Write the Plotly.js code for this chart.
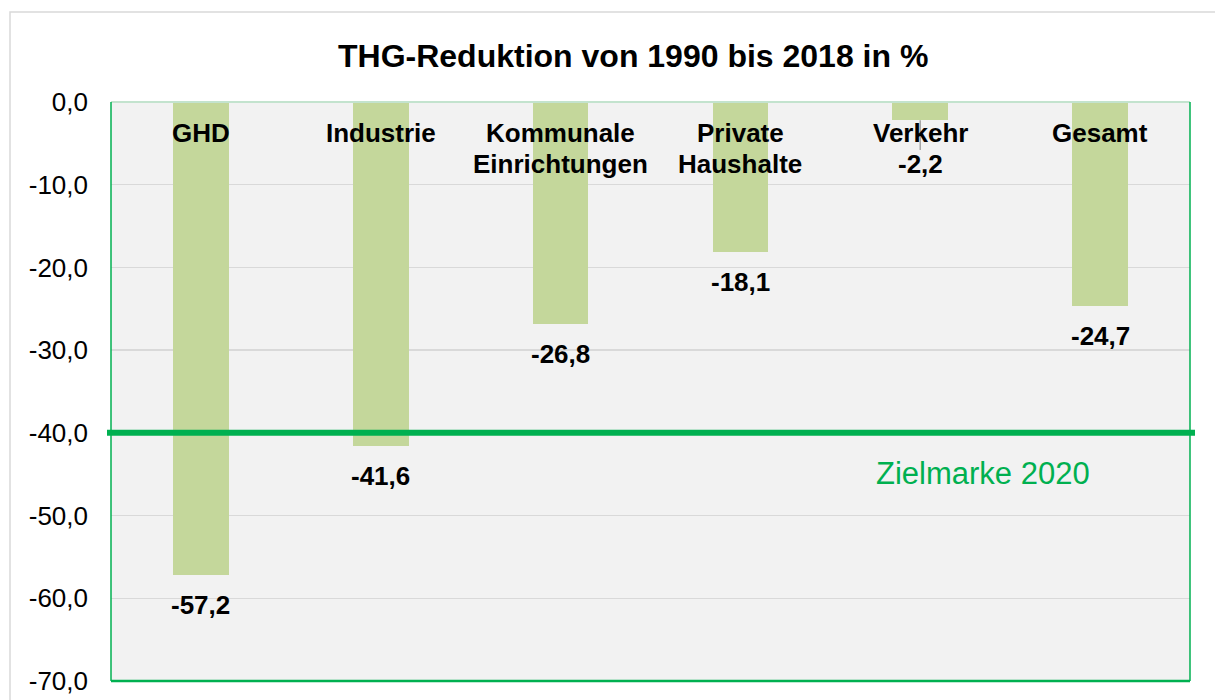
<!DOCTYPE html>
<html>
<head>
<meta charset="utf-8">
<script src="https://cdn.plot.ly/plotly-3.0.1.min.js"></script>
<style>html,body{margin:0;padding:0;background:#fff;}#chart{width:1215px;height:700px;}</style>
</head>
<body>
<div id="chart"></div>
<script>
// ---- data ----
const categories = ["GHD", "Industrie", "Kommunale Einrichtungen", "Private Haushalte", "Verkehr", "Gesamt"];
const categoryLines = [["GHD"], ["Industrie"], ["Kommunale", "Einrichtungen"], ["Private", "Haushalte"], ["Verkehr"], ["Gesamt"]];
const values = [-57.2, -41.6, -26.8, -18.1, -2.2, -24.7];
const valueLabels = ["-57,2", "-41,6", "-26,8", "-18,1", "-2,2", "-24,7"];
const targetValue = -40;
const targetLabel = "Zielmarke 2020";
const tickVals = [0, -10, -20, -30, -40, -50, -60, -70];
const tickText = ["0,0", "-10,0", "-20,0", "-30,0", "-40,0", "-50,0", "-60,0", "-70,0"];
const titleText = "THG-Reduktion von 1990 bis 2018 in %";

// ---- layout constants ----
const W = 1215, H = 700;
const mL = 111, mR = 25, mT = 102, mB = 19;
const plotW = W - mL - mR, plotH = H - mT - mB;
const yMin = -70, yMax = 0;
const pxPerUnit = plotH / (yMax - yMin);
const font = "Liberation Sans, Arial, sans-serif";
const green = "#00B050";

const annotations = [];
const shapes = [];

// category labels at top
categoryLines.forEach((lines, i) => {
  lines.forEach((ln, j) => {
    annotations.push({
      x: categories[i], y: 1, xref: "x", yref: "paper",
      text: "<b>" + ln + "</b>", showarrow: false,
      xanchor: "center", yanchor: "middle",
      yshift: -(31 + 31 * j),
      font: {family: font, size: 26, color: "#000"}
    });
  });
});

// value labels below bar ends
const minLabelShift = 62; // below two-line category labels
values.forEach((v, i) => {
  const barEndPx = -v * pxPerUnit;
  const labelPx = barEndPx + 30;
  if (labelPx < minLabelShift) {
    annotations.push({
      x: categories[i], y: 0, xref: "x", yref: "y",
      text: "<b>" + valueLabels[i] + "</b>", showarrow: false,
      xanchor: "center", yanchor: "middle", yshift: -minLabelShift,
      font: {family: font, size: 26, color: "#000"}
    });
    // leader line from bar end towards label
    shapes.push({
      type: "line", xref: "x", yref: "y",
      x0: i, x1: i, y0: v, y1: -(minLabelShift - 14) / pxPerUnit,
      line: {color: "#A6A6A6", width: 1.5}, layer: "above"
    });
  } else {
    annotations.push({
      x: categories[i], y: v, xref: "x", yref: "y",
      text: "<b>" + valueLabels[i] + "</b>", showarrow: false,
      xanchor: "center", yanchor: "middle", yshift: -30,
      font: {family: font, size: 26, color: "#000"}
    });
  }
});

// target label
annotations.push({
  x: 4.35, y: targetValue, xref: "x", yref: "y",
  text: targetLabel, showarrow: false,
  xanchor: "center", yanchor: "middle", yshift: -41,
  font: {family: font, size: 31, color: green}
});

// title
annotations.push({
  x: (633 - mL) / plotW, y: 1 + (mT - 56) / plotH, xref: "paper", yref: "paper",
  text: "<b>" + titleText + "</b>", showarrow: false,
  xanchor: "center", yanchor: "middle",
  font: {family: font, size: 32, color: "#000"}
});

// outer chart frame
shapes.push({
  type: "rect", xref: "paper", yref: "paper",
  x0: (10 - mL) / plotW, x1: 1.2, y0: -0.2, y1: 1 + (mT - 12) / plotH,
  line: {color: "#D9D9D9", width: 1.5}, fillcolor: "rgba(0,0,0,0)", layer: "below"
});
// plot area borders
shapes.push({type: "line", xref: "paper", yref: "paper", x0: 0, x1: 1, y0: 1, y1: 1, line: {color: "#C3E3CE", width: 2}, layer: "above"});
shapes.push({type: "line", xref: "paper", yref: "paper", x0: 0, x1: 0, y0: 0, y1: 1, line: {color: green, width: 1.5}, layer: "above"});
shapes.push({type: "line", xref: "paper", yref: "paper", x0: 1, x1: 1, y0: 0, y1: 1, line: {color: green, width: 1.5}, layer: "above"});
shapes.push({type: "line", xref: "paper", yref: "paper", x0: 0, x1: 1, y0: 0, y1: 0, line: {color: green, width: 2.5}, layer: "above"});
// target line
shapes.push({
  type: "line", xref: "paper", yref: "y",
  x0: -4 / plotW, x1: 1 + 5 / plotW, y0: targetValue, y1: targetValue,
  line: {color: green, width: 6}, layer: "above"
});

const trace = {
  type: "bar",
  x: categories,
  y: values,
  width: 0.31,
  marker: {color: "#C4D79B", line: {width: 0}},
  hoverinfo: "skip"
};

const layout = {
  width: W, height: H,
  margin: {l: mL, r: mR, t: mT, b: mB, pad: 0},
  paper_bgcolor: "#FFFFFF",
  plot_bgcolor: "#F2F2F2",
  showlegend: false,
  xaxis: {
    type: "category", range: [-0.5, 5.5],
    showticklabels: false, showgrid: false, zeroline: false, showline: false, ticks: ""
  },
  yaxis: {
    range: [yMin, yMax], tickvals: tickVals, ticktext: tickText,
    showgrid: true, gridcolor: "#D9D9D9", gridwidth: 1.5,
    zeroline: false, showline: false, ticks: "", ticklabelstandoff: 22,
    tickfont: {family: font, size: 26, color: "#000"}
  },
  annotations: annotations,
  shapes: shapes,
  bargap: 0
};

Plotly.newPlot("chart", [trace], layout, {displayModeBar: false, staticPlot: true});
</script>
</body>
</html>
